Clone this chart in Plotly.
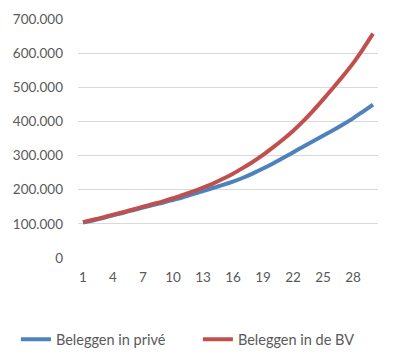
import plotly.graph_objects as go

years = list(range(1, 31))
prive = [104000, 110000, 117000, 125000, 132000, 140000, 148000, 155000, 162000, 170000,
         178000, 187000, 196000, 205000, 214000, 224000, 235000, 248000, 262000, 277000,
         293000, 309000, 326000, 342000, 358000, 374000, 391000, 409000, 429000, 449000]
bv = [105000, 112000, 119000, 127000, 134000, 142000, 150000, 158000, 166000, 175000,
      185000, 195000, 206000, 218000, 232000, 247000, 264000, 282000, 302000, 324000,
      347000, 372000, 400000, 431000, 464000, 498000, 533000, 570000, 612000, 657000]
series_names = ["Beleggen in privé", "Beleggen in de BV"]
y_ticks = [0, 100000, 200000, 300000, 400000, 500000, 600000, 700000]
x_ticks = list(range(1, 31, 3))

FONT = "Lato"
GREY = "#595959"

fig = go.Figure()
fig.add_trace(go.Scatter(x=years, y=prive, name=series_names[0], mode="lines",
                         line=dict(color="#4F81BD", width=4, shape="spline", smoothing=0.6)))
fig.add_trace(go.Scatter(x=years, y=bv, name=series_names[1], mode="lines",
                         line=dict(color="#C0504D", width=4, shape="spline", smoothing=0.6)))

# page body has an 8px margin: figure starts at (8, 8)
fig.update_layout(
    width=394, height=357,
    margin=dict(l=70, r=24, t=11, b=107, autoexpand=False),
    paper_bgcolor="white", plot_bgcolor="white",
    separators=",.",
    font=dict(family=FONT, size=13.5, color=GREY),
    showlegend=True,
    legend=dict(orientation="h", x=-0.207, xanchor="left", y=-0.34, yanchor="middle",
                font=dict(family=FONT, size=14.5, color=GREY),
                entrywidth=137, entrywidthmode="pixels", bgcolor="rgba(0,0,0,0)"),
    xaxis=dict(range=[0.5, 30.5], tickmode="array", tickvals=x_ticks, automargin=False,
               showgrid=False, zeroline=False, showline=False,
               ticks="", ticklabelstandoff=9,
               tickfont=dict(family=FONT, size=13.5, color=GREY), fixedrange=True),
    yaxis=dict(range=[0, 700000], tickmode="array", tickvals=y_ticks, automargin=False,
               tickformat=",.0f", showgrid=True, gridcolor="#D9D9D9", gridwidth=1,
               zeroline=False, showline=False, ticks="", ticklabelstandoff=14,
               tickfont=dict(family=FONT, size=13.5, color=GREY), fixedrange=True),
)

fig.write_html("out.html")
